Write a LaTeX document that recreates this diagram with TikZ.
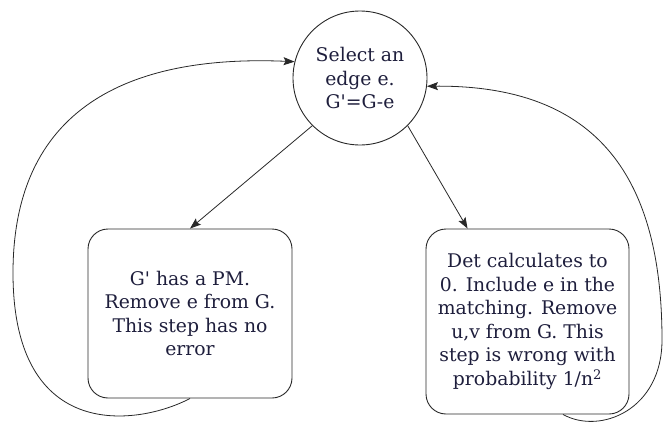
\documentclass[tikz,border=0pt]{standalone}
\usepackage{fontspec}
\newfontfamily\dvserif{DejaVu Serif}
\usetikzlibrary{arrows.meta}
\definecolor{txt}{RGB}{30,30,60}
\definecolor{ln}{RGB}{40,40,40}
\begin{document}
\begin{tikzpicture}[x=1pt,y=-1pt,
  every node/.style={font=\dvserif\fontsize{18.8}{23.5}\selectfont, text=txt, align=center, inner sep=0pt},
  selnode/.style={circle, draw=ln, line width=0.9pt, minimum size=134pt},
  boxnode/.style={rectangle, rounded corners=20pt, draw=ln, line width=0.9pt},
  conn/.style={draw=ln, line width=0.8pt, -{Stealth[length=11pt,width=8pt,inset=2pt]}}
]
\useasboundingbox (0,0) rectangle (664,423);
\node[selnode] (sel) at (360,78) {Select an\\edge e.\\G'=G-e};
\node[boxnode, minimum width=204pt, minimum height=169pt] (pm) at (190,313.5)
  {G' has a PM.\\Remove e from G.\\This step has no\\error};
\node[boxnode, minimum width=203pt, minimum height=185pt] (det) at (527.5,321.5)
  {Det calculates to\\0. Include e in the\\matching. Remove\\u,v from G. This\\step is wrong with\\probability 1/n\textsuperscript{2}};
\coordinate (detout) at ([xshift=35.5pt]det.south);
\coordinate (detin) at ([xshift=42pt]det.north west);
\draw[conn] (sel.225) -- (pm.north);
\draw[conn] (sel.315) -- (detin);
\draw[conn] (pm.south) .. controls (140,425) and (13,445) .. (13,273)
  .. controls (13,100) and (140,55) .. (sel.166);
\draw[conn] (detout) .. controls (600,435) and (662,410) .. (662,340)
  .. controls (662,180) and (600,85) .. (sel.353);
\end{tikzpicture}
\end{document}
